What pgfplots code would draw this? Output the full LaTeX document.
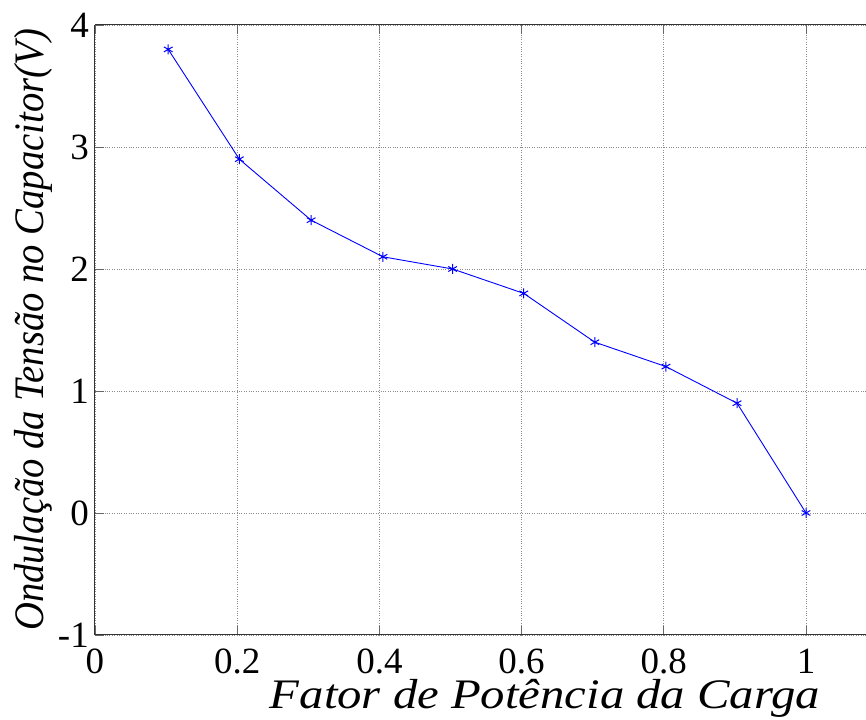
\documentclass[border=0pt]{standalone}
\usepackage{fontspec}
\setmainfont{Liberation Serif}
\usepackage{pgfplots}
\pgfplotsset{compat=1.18}
\usetikzlibrary{calc}
\begin{document}
\fontsize{36}{42}\selectfont
\begin{tikzpicture}
\begin{axis}[
  scale only axis,
  width=771pt, height=610pt,
  xmin=0, xmax=1.0844,
  ymin=-1, ymax=4,
  axis y line*=left,
  xtick={0,0.2,0.4,0.6,0.8,1},
  ytick={-1,0,1,2,3,4},
  xticklabel={\pgfmathprintnumber[assume math mode=true]{\tick}},
  yticklabel={\pgfmathprintnumber[assume math mode=true]{\tick}},
  tick align=inside,
  major tick length=9pt,
  tick style={line width=0.8pt, black!60},
  axis line style={line width=1pt, black!80},
  grid=major,
  major grid style={dotted, line width=0.8pt, black!45},
  ticklabel style={font=\fontsize{37}{42}\selectfont, inner sep=0pt},
  xticklabel style={anchor=north, yshift=-14pt},
  yticklabel style={anchor=east, xshift=-6pt},
  xlabel={\scalebox{1.16}[1]{\textit{Fator de Potência da Carga}}},
  ylabel={\scalebox{0.92}[1]{\textit{Ondulação da Tensão no Capacitor(V)}}},
  label style={font=\fontsize{42}{48}\selectfont, inner sep=0pt},
  xlabel style={at={(axis description cs:0.5837,-0.1213)}, anchor=base},
  ylabel style={at={(axis description cs:-0.0674,0.5)}, anchor=base, rotate=0},
  clip=false,
]
\addplot[blue, line width=0.9pt, mark=asterisk, mark size=5pt, mark options={line width=1pt}]
  coordinates {(0.103,3.8)(0.203,2.9)(0.304,2.4)(0.405,2.1)(0.503,2.0)(0.603,1.8)(0.703,1.4)(0.803,1.2)(0.903,0.9)(1.0,0)};
\coordinate (bl) at (rel axis cs:0,0);
\coordinate (tr) at (rel axis cs:1,1);
\end{axis}
\pgfresetboundingbox
\path ($(bl)+(-95pt,-85pt)$) rectangle ($(tr)+(0pt,25pt)$);
\end{tikzpicture}
\end{document}
